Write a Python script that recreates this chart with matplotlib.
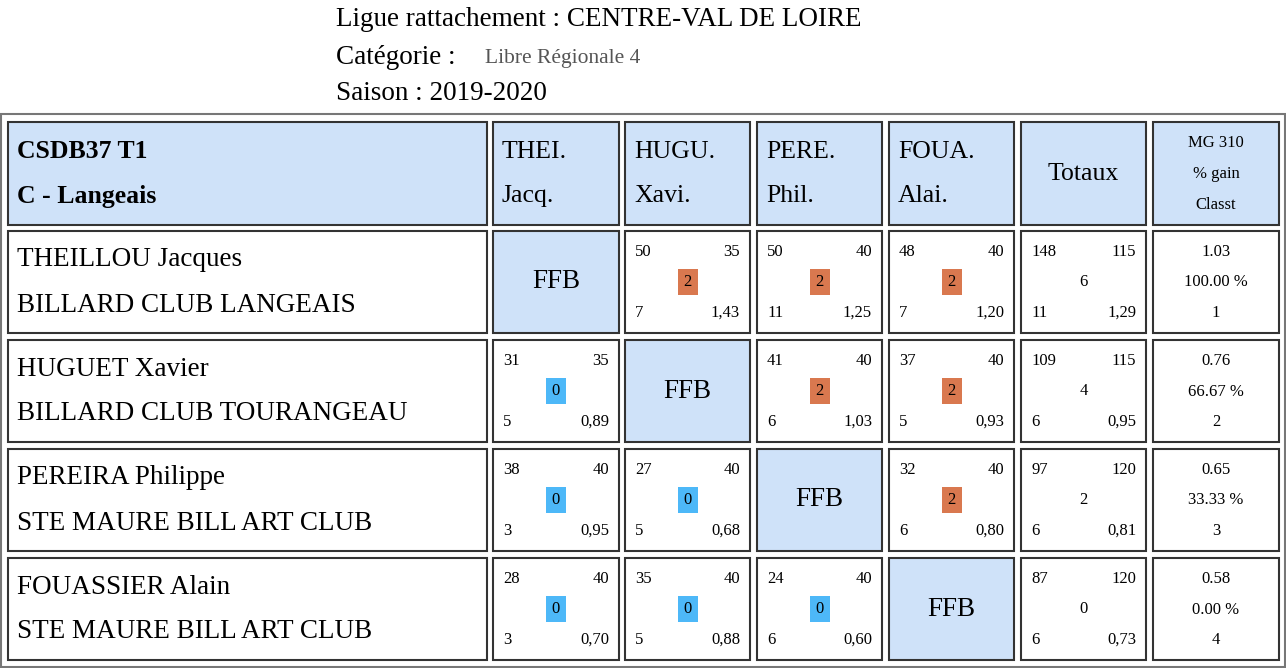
import matplotlib
matplotlib.use("Agg")
import matplotlib.pyplot as plt
from matplotlib.patches import Rectangle

LIGUE = "CENTRE-VAL DE LOIRE"
CATEGORIE = "Libre Régionale 4"
SAISON = "2019-2020"
TEAM = ["CSDB37 T1", "C - Langeais"]
COL_HEADS = [("THEI.", "Jacq."), ("HUGU.", "Xavi."), ("PERE.", "Phil."), ("FOUA.", "Alai.")]
PLAYERS = ["THEILLOU Jacques", "HUGUET Xavier", "PEREIRA Philippe", "FOUASSIER Alain"]
CLUBS = ["BILLARD CLUB LANGEAIS", "BILLARD CLUB TOURANGEAU",
         "STE MAURE BILL ART CLUB", "STE MAURE BILL ART CLUB"]
# per match: (points, distance, match points, series, average); None = diagonal
MATCHES = [
    [None, (50, 35, 2, 7, "1,43"), (50, 40, 2, 11, "1,25"), (48, 40, 2, 7, "1,20")],
    [(31, 35, 0, 5, "0,89"), None, (41, 40, 2, 6, "1,03"), (37, 40, 2, 5, "0,93")],
    [(38, 40, 0, 3, "0,95"), (27, 40, 0, 5, "0,68"), None, (32, 40, 2, 6, "0,80")],
    [(28, 40, 0, 3, "0,70"), (35, 40, 0, 5, "0,88"), (24, 40, 0, 6, "0,60"), None],
]
TOTALS = [(148, 115, 6, 11, "1,29"), (109, 115, 4, 6, "0,95"),
          (97, 120, 2, 6, "0,81"), (87, 120, 0, 6, "0,73")]
MG = ["1.03", "0.76", "0.65", "0.58"]
PCT = ["100.00 %", "66.67 %", "33.33 %", "0.00 %"]
RANK = ["1", "2", "3", "4"]

FONT = "Liberation Serif"
BLUE_BG = "#cfe2f9"
WIN = "#d9784f"
LOSS = "#4db8f8"
SMALL = 12

fig = plt.figure(figsize=(12.86, 6.68), dpi=100)
ax = fig.add_axes([0, 0, 1, 1])
ax.set_xlim(0, 1286)
ax.set_ylim(668, 0)
ax.axis("off")

def txt(x, y, s, size, ha="left", va="center", **kw):
    ax.text(x, y, s, fontsize=size, ha=ha, va=va, family=FONT, **kw)

txt(336, 19, "Ligue rattachement : " + LIGUE, 19.5)
txt(336, 57, "Catégorie : ", 19.5)
txt(485, 58, CATEGORIE, 15.5, color="#555555")
txt(336, 94, "Saison : " + SAISON, 19.5)

ax.add_patch(Rectangle((1, 114), 1284, 553, fill=False, ec="#777777", lw=1.5))

cols = [(8, 487), (493, 619), (625, 750), (757, 882), (889, 1014), (1021, 1146), (1153, 1279)]
rows = [(122, 225), (231, 333), (340, 442), (449, 551), (558, 660)]

def cell(c, r, fill="white"):
    x0, x1 = cols[c]
    y0, y1 = rows[r]
    ax.add_patch(Rectangle((x0, y0), x1 - x0, y1 - y0, fc=fill, ec="#333333", lw=1.5))
    return x0, x1, y0, y1

# header row
x0, x1, y0, y1 = cell(0, 0, BLUE_BG)
txt(x0 + 9, y0 + 30, TEAM[0], 18.5, weight="bold")
txt(x0 + 9, y0 + 74, TEAM[1], 18.5, weight="bold")
for i, (a, b) in enumerate(COL_HEADS):
    x0, x1, y0, y1 = cell(i + 1, 0, BLUE_BG)
    txt(x0 + 9, y0 + 30, a, 18.5)
    txt(x0 + 9, y0 + 74, b, 18.5)
x0, x1, y0, y1 = cell(5, 0, BLUE_BG)
txt((x0 + x1) / 2, (y0 + y1) / 2, "Totaux", 18.5, ha="center")
x0, x1, y0, y1 = cell(6, 0, BLUE_BG)
for k, s in enumerate(["MG 310", "% gain", "Classt"]):
    txt((x0 + x1) / 2, y0 + 21 + 31 * k, s, SMALL, ha="center")

def stats_cell(x0, x1, y0, y1, vals, badge):
    pts, dist, mp, ser, avg = vals
    cx, cy = (x0 + x1) / 2, (y0 + y1) / 2
    txt(x0 + 10, y0 + 21, str(pts), SMALL)
    txt(x1 - 10, y0 + 21, str(dist), SMALL, ha="right")
    txt(x0 + 10, y1 - 20, str(ser), SMALL)
    txt(x1 - 10, y1 - 20, avg, SMALL, ha="right")
    if badge:
        color = WIN if mp == 2 else LOSS
        ax.add_patch(Rectangle((cx - 10, cy - 13), 20, 26, fc=color, ec="none"))
    txt(cx, cy, str(mp), SMALL, ha="center")

for r in range(4):
    x0, x1, y0, y1 = cell(0, r + 1)
    txt(x0 + 9, y0 + 29, PLAYERS[r], 19.5)
    txt(x0 + 9, y0 + 74, CLUBS[r], 19.5)
    for c in range(4):
        m = MATCHES[r][c]
        if m is None:
            x0, x1, y0, y1 = cell(c + 1, r + 1, BLUE_BG)
            txt((x0 + x1) / 2, (y0 + y1) / 2, "FFB", 19.5, ha="center")
        else:
            x0, x1, y0, y1 = cell(c + 1, r + 1)
            stats_cell(x0, x1, y0, y1, m, True)
    x0, x1, y0, y1 = cell(5, r + 1)
    stats_cell(x0, x1, y0, y1, TOTALS[r], False)
    x0, x1, y0, y1 = cell(6, r + 1)
    for k, s in enumerate([MG[r], PCT[r], RANK[r]]):
        txt((x0 + x1) / 2, y0 + 21 + 30.5 * k, s, SMALL, ha="center")

fig.savefig("out.png", dpi=100)
